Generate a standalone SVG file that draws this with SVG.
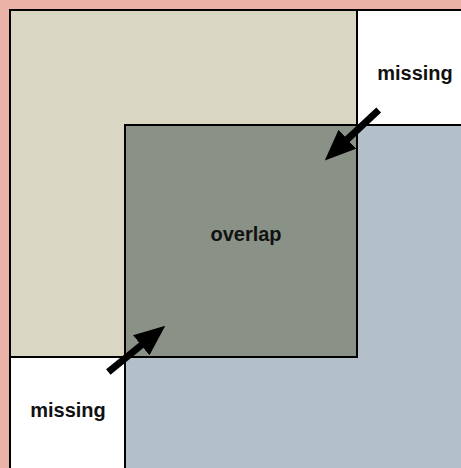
<svg xmlns="http://www.w3.org/2000/svg" width="461" height="468" viewBox="0 0 461 468">
<defs>
<style>
.box{stroke:#000;stroke-width:2}
.lbl{font-family:"Liberation Sans",Arial,Helvetica,sans-serif;font-weight:bold;font-size:20px;fill:#111;text-anchor:middle}
.arr{stroke:#000;stroke-width:7;fill:none}
</style>
<marker id="head" markerUnits="userSpaceOnUse" markerWidth="31" markerHeight="26" viewBox="0 0 31 26" refX="1" refY="13" orient="auto">
<path d="M0,0 L31,13 L0,26 z" fill="#000"/>
</marker>
</defs>
<rect x="0" y="0" width="461" height="468" fill="#EBB2A8"/>
<g id="frame"><rect class="box" x="10" y="10" width="470" height="480" fill="#FFFFFF"/></g>
<g id="rectA"><rect class="box" x="10" y="10" width="347" height="347" fill="#D9D6C4"/></g>
<g id="rectB"><rect class="box" x="125" y="125" width="360" height="360" fill="#B3C0C9"/></g>
<g id="overlap"><rect class="box" x="125" y="125" width="232" height="232" fill="#8A9186"/>
<text class="lbl" x="246" y="241">overlap</text></g>
<g id="missing-top"><text class="lbl" x="415" y="80">missing</text></g>
<g id="missing-bottom"><text class="lbl" x="68" y="417">missing</text></g>
<g id="connectors">
<line class="arr" x1="378.7" y1="110" x2="346.7" y2="139.9" marker-end="url(#head)"/>
<line class="arr" x1="108.3" y1="372" x2="142" y2="344.6" marker-end="url(#head)"/>
</g>
</svg>
